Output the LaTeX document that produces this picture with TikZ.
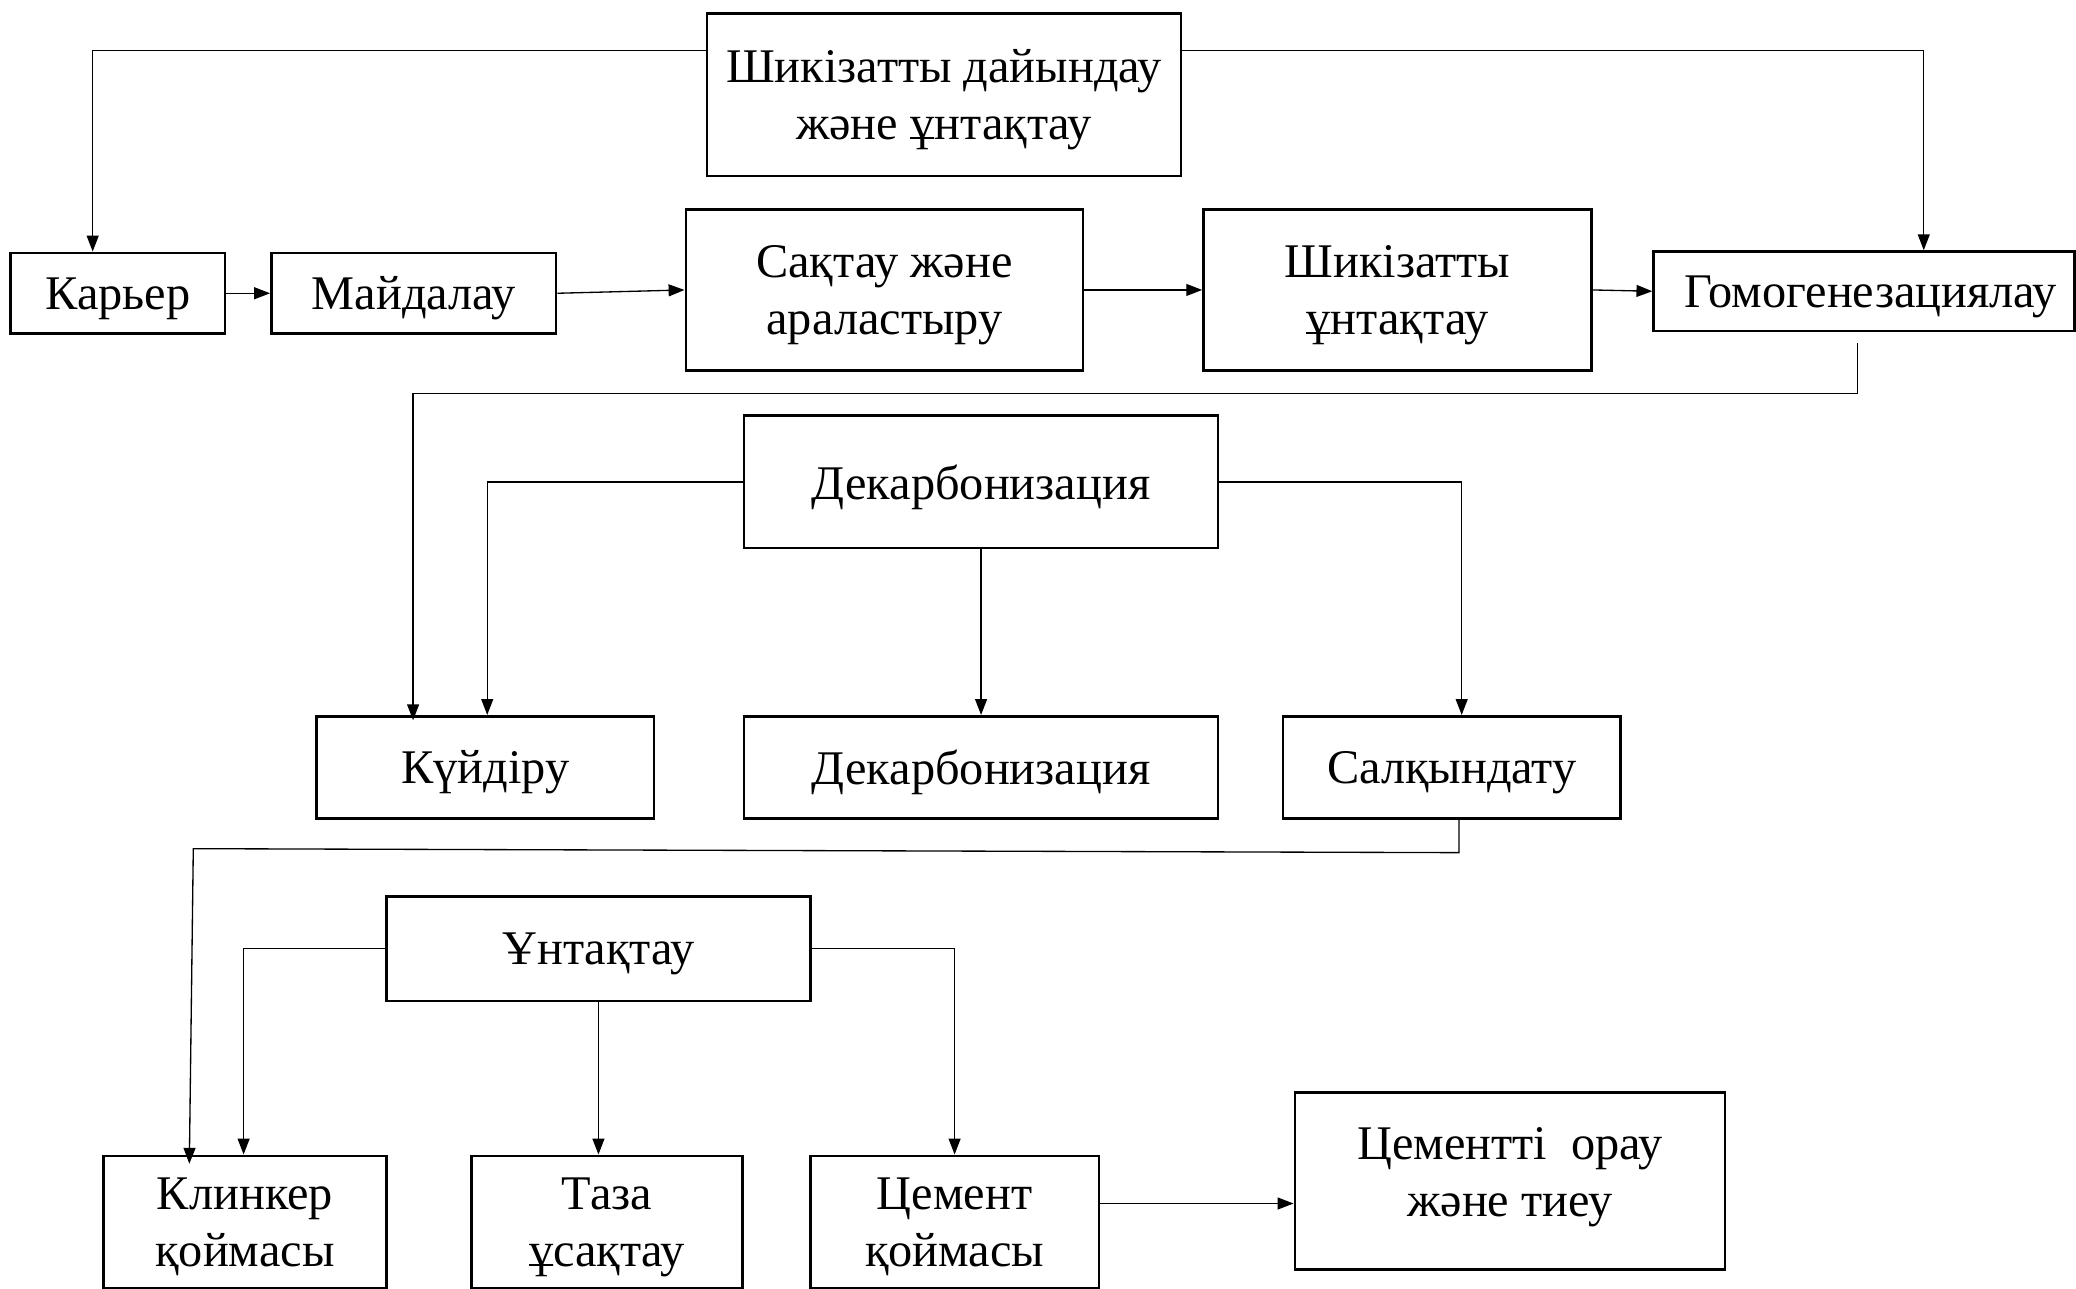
\documentclass[tikz,border=0pt]{standalone}
\usepackage{fontspec}
\setmainfont{Liberation Serif}
\usetikzlibrary{arrows.meta}
\tikzset{
  box/.style={draw, line width=2pt, inner sep=0pt, align=center, anchor=center,
    text depth=0pt, font=\fontsize{36.5}{43}\selectfont},
  arr/.style={line width=1pt, -{Triangle[length=12pt,width=9pt]}},
  ln/.style={line width=1pt}
}
\begin{document}
\begin{tikzpicture}[x=1pt,y=-1pt]
\useasboundingbox (0,0) rectangle (1568,973);
% nodes
\node[box, minimum width=358pt, minimum height=123pt] (top) at (713,71.5) {Шикізатты дайындау\\және ұнтақтау};
\node[box, minimum width=162pt, minimum height=61pt] (karer) at (89,221.5) {Карьер};
\node[box, minimum width=215pt, minimum height=61pt] (maid) at (312.5,221.5) {Майдалау};
\node[box, minimum width=300pt, minimum height=122pt] (sak) at (668,219) {Сақтау және\\араластыру};
\node[box, minimum width=293pt, minimum height=122pt] (shik) at (1055.5,219) {Шикізатты\\ұнтақтау};
\node[box, minimum width=318pt, minimum height=60pt] (gomo) at (1408,220) {\hspace*{10pt}Гомогенезациялау};
\node[box, minimum width=358pt, minimum height=100pt] (dek1) at (741,364) {Декарбонизация};
\node[box, minimum width=255pt, minimum height=77pt] (kuy) at (366.5,579.5) {Күйдіру};
\node[box, minimum width=358pt, minimum height=77pt] (dek2) at (741,579.5) {Декарбонизация};
\node[box, minimum width=255pt, minimum height=77pt] (sal) at (1096.5,579.5) {Салқындату};
\node[box, minimum width=320pt, minimum height=79pt] (unt) at (452,716.5) {Ұнтақтау};
\node[box, minimum width=214pt, minimum height=100pt] (kli) at (185,923) {Клинкер\\қоймасы};
\node[box, minimum width=205pt, minimum height=100pt] (taza) at (458.5,923) {Таза\\ұсақтау};
\node[box, minimum width=218pt, minimum height=100pt] (cem) at (721,923) {Цемент\\қоймасы};
\node[box, text depth=14pt, minimum width=325pt, minimum height=134pt] (orau) at (1140.5,892) {Цементті\ \ орау\\және тиеу};
% bend points
\coordinate (b1) at (70,38);
\coordinate (b2) at (1453,38);
\coordinate (b3) at (1403,297);
\coordinate (b4) at (312,297);
\coordinate (b5) at (368,364);
\coordinate (b6) at (1104,364);
\coordinate (b7) at (1102,644);
\coordinate (b8) at (146,641);
\coordinate (b9) at (143,641);
\coordinate (b10) at (184,717);
\coordinate (b11) at (721,717);
\coordinate (b12) at (830,909);
% connectors
\draw[arr] (top.west |- b1) -| (karer.north -| b1);
\draw[arr] (top.east |- b2) -| (gomo.north -| b2);
\draw[arr] (karer.east) -- (maid.west);
\draw[arr] (maid.east) -- (sak.west);
\draw[arr] (sak.east) -- (shik.west);
\draw[arr] (shik.east) -- (gomo.west);
\draw[arr] ([yshift=-8pt]gomo.south -| b3) -- (b3) -- (b4) -- ([yshift=-4pt]kuy.north -| b4);
\draw[arr] (dek1.west) -| (kuy.north -| b5);
\draw[arr] (dek1.east) -| (sal.north -| b6);
\draw[arr] (dek1.south) -- (dek2.north);
\draw[arr] (sal.south -| b7) -- (b7) -- (b8) -- ([yshift=-7pt]kli.north -| b9);
\draw[arr] (unt.west) -| (kli.north -| b10);
\draw[arr] (unt.east) -| (cem.north -| b11);
\draw[arr] (unt.south) -- (unt.south |- taza.north);
\draw[arr] (cem.east |- b12) -- (orau.west |- b12);
\end{tikzpicture}
\end{document}
